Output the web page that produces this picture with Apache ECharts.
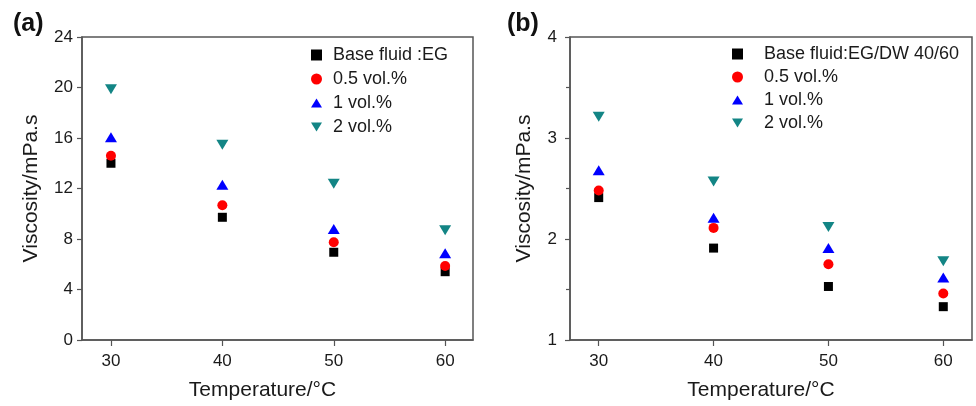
<!DOCTYPE html>
<html>
<head>
<meta charset="utf-8">
<script src="https://cdn.jsdelivr.net/npm/echarts@6/dist/echarts.min.js"></script>
<style>html,body{margin:0;padding:0;background:#fff}#c{width:976px;height:406px}</style>
</head>
<body>
<div id="c"></div>
<script>
// ---- data ----
var temperatures = [30, 40, 50, 60];
var xTicks = [30, 40, 50, 60];
var seriesNamesA = ['Base fluid :EG', '0.5 vol.%', '1 vol.%', '2 vol.%'];
var seriesNamesB = ['Base fluid:EG/DW 40/60', '0.5 vol.%', '1 vol.%', '2 vol.%'];
var baseA = [14.0, 9.72, 6.95, 5.41];
var vol05A = [14.6, 10.67, 7.74, 5.86];
var vol1A = [16.05, 12.3, 8.8, 6.87];
var vol2A = [19.86, 15.47, 12.38, 8.69];
var baseB = [2.41, 1.91, 1.53, 1.33];
var vol05B = [2.48, 2.11, 1.75, 1.46];
var vol1B = [2.68, 2.21, 1.91, 1.62];
var vol2B = [3.21, 2.57, 2.12, 1.78];

var FONT = '"Liberation Sans", Arial, Helvetica, sans-serif';
var AX = '#555';
var TXT = '#1a1a1a';
var DOWN_TRI = 'path://M0,0 L12,0 L6,10 Z';
var UP_TRI = 'path://M6,0 L12,10 L0,10 Z';
var styles = [
  {symbol: 'rect', size: 9, color: '#000000'},
  {symbol: 'circle', size: 10, color: '#ff0000'},
  {symbol: UP_TRI, size: [12, 10], color: '#0000ff'},
  {symbol: DOWN_TRI, size: [12, 10], color: '#138585'}
];

function pairs(xs, ys) { return xs.map(function (x, i) { return [x, ys[i]]; }); }

function mkSeries(names, arrays, idx) {
  return names.map(function (n, k) {
    var s = styles[k];
    return {
      type: 'scatter', name: n, xAxisIndex: idx, yAxisIndex: idx,
      symbol: s.symbol, symbolSize: s.size,
      itemStyle: {color: s.color, opacity: 1},
      emphasis: {disabled: true},
      data: pairs(temperatures, arrays[k])
    };
  });
}

function xAxis(idx, min, max, padRight) {
  return {
    type: 'value', gridIndex: idx, min: min, max: max,
    name: 'Temperature/\u00B0C', nameLocation: 'middle', nameGap: 40,
    nameTextStyle: {fontFamily: FONT, fontSize: 21, color: TXT, padding: [0, padRight, 0, 0]},
    axisLine: {show: true, onZero: false, lineStyle: {color: AX, width: 1.5}},
    axisTick: {show: true, inside: false, length: 6, customValues: xTicks, lineStyle: {color: AX, width: 1.2}},
    axisLabel: {customValues: xTicks, fontFamily: FONT, fontSize: 17, color: TXT, margin: 13},
    splitLine: {show: false}
  };
}

function yAxis(idx, min, max, interval, gap, margin, minor) {
  return {
    type: 'value', gridIndex: idx, min: min, max: max, interval: interval,
    name: 'Viscosity/mPa.s', nameLocation: 'middle', nameGap: gap, nameRotate: 90,
    nameTextStyle: {fontFamily: FONT, fontSize: 21, color: TXT},
    axisLine: {show: true, onZero: false, lineStyle: {color: AX, width: 1.5}},
    axisTick: {show: true, inside: false, length: 5, lineStyle: {color: AX, width: 1.2}},
    minorTick: {show: minor, splitNumber: 2, length: 4, lineStyle: {color: AX, width: 1.2}},
    axisLabel: {fontFamily: FONT, fontSize: 17, color: TXT, margin: margin},
    splitLine: {show: false}, minorSplitLine: {show: false}
  };
}

function legend(names, left, top, textPad, gap) {
  return {
    data: names, orient: 'vertical', left: left, top: top, padding: 0,
    itemWidth: 11, itemHeight: 11, itemGap: gap, selectedMode: false,
    textStyle: {fontFamily: FONT, fontSize: 18, color: TXT, lineHeight: 18, padding: [0, 0, 0, textPad]}
  };
}

var chart = echarts.init(document.getElementById('c'), null, {renderer: 'canvas'});
chart.setOption({
  backgroundColor: '#ffffff',
  animation: false,
  title: [
    {text: '(a)', left: 13, top: 12, padding: 0, textStyle: {fontFamily: FONT, fontWeight: 'bold', fontSize: 25, color: '#111'}},
    {text: '(b)', left: 507, top: 12, padding: 0, textStyle: {fontFamily: FONT, fontWeight: 'bold', fontSize: 25, color: '#111'}}
  ],
  grid: [
    {left: 82, top: 37, width: 391, height: 303, show: true, borderColor: AX, borderWidth: 1.5, backgroundColor: 'transparent'},
    {left: 570, top: 37, width: 402, height: 303, show: true, borderColor: AX, borderWidth: 1.5, backgroundColor: 'transparent'}
  ],
  xAxis: [xAxis(0, 27.4, 62.5, 30), xAxis(1, 27.5, 62.5, 20)],
  yAxis: [yAxis(0, 0, 24, 4, 40, 9, false), yAxis(1, 1, 4, 1, 35, 13, true)],
  legend: [
    legend(seriesNamesA, 311, 46, 6, 6),
    legend(seriesNamesB, 732, 45, 16, 5)
  ],
  series: mkSeries(seriesNamesA, [baseA, vol05A, vol1A, vol2A], 0)
    .concat(mkSeries(seriesNamesB, [baseB, vol05B, vol1B, vol2B], 1))
});
</script>
</body>
</html>
